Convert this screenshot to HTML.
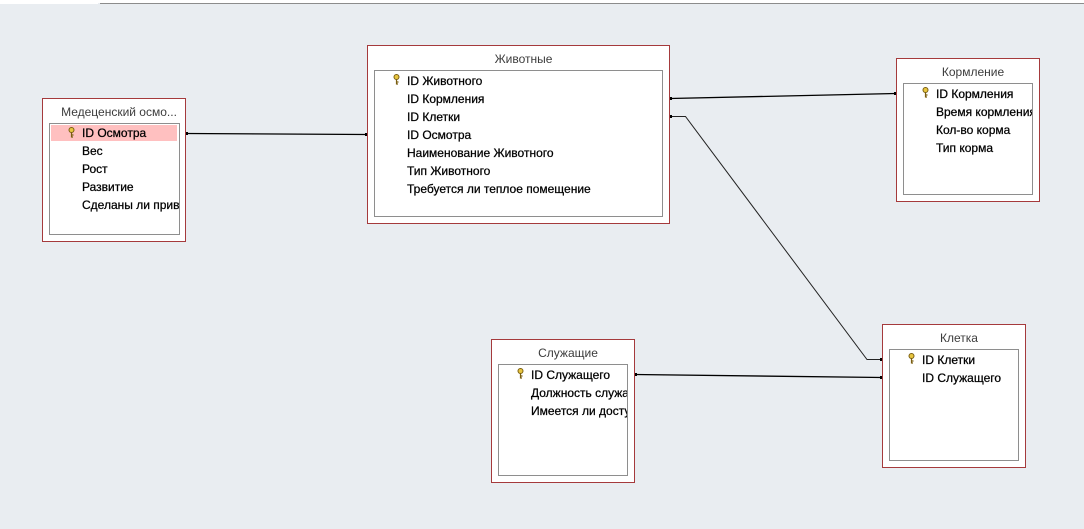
<!DOCTYPE html>
<html><head><meta charset="utf-8">
<style>
html,body{margin:0;padding:0;}
body{width:1084px;height:529px;background:#e9edf1;position:relative;overflow:hidden;font-family:"Liberation Sans","DejaVu Sans",sans-serif;}
.topw{position:absolute;left:0;top:0;width:1084px;height:3px;background:#fff;}
.topl{position:absolute;left:100px;top:3px;width:984px;height:1px;background:#8c8c8c;}
.tabw{position:absolute;left:0;top:0;width:98px;height:4px;background:#fff;}
.t{position:absolute;background:#fff;border:1px solid #a53a3c;box-sizing:border-box;}
.ttl{position:absolute;left:10px;right:0;top:5px;text-align:center;font-size:12px;color:#3c3c3c;line-height:16px;white-space:nowrap;}
.in{position:absolute;left:6px;top:24px;border:1px solid #8e8e8e;box-sizing:border-box;overflow:hidden;background:#fff;}
.r{position:absolute;left:32px;height:18px;line-height:18px;font-size:12px;color:#000;white-space:nowrap;-webkit-text-stroke:0.25px #000;}
.hl{position:absolute;left:1px;top:1px;height:16px;background:#ffc0c0;}
.k{position:absolute;left:18px;width:7px;height:11px;}
svg.lines{position:absolute;left:0;top:0;}
</style></head><body>
<div class="topw"></div><div class="tabw"></div><div class="topl"></div>

<svg class="lines" width="1084" height="529">
 <g stroke="#000" fill="none">
  <path d="M186.5 133.5 L366.5 134.5" stroke-width="1.3"/>
  <path d="M670 98.5 L896 93.5" stroke-width="1.3"/>
  <path d="M670 116.5 H685.5 L867 359.5 H882" stroke-width="1" stroke="#222"/>
  <path d="M635 374.5 L882 377.5" stroke-width="1.3"/>
 </g>
 <g fill="#000">
  <rect x="185" y="132" width="3" height="3"/>
  <rect x="365" y="133" width="3" height="3"/>
  <rect x="669" y="97" width="3" height="3"/>
  <rect x="894" y="92" width="3" height="3"/>
  <rect x="669" y="115" width="3" height="3"/>
  <rect x="880" y="358" width="3" height="3"/>
  <rect x="634" y="373" width="3" height="3"/>
  <rect x="880" y="376" width="3" height="3"/>
 </g>
</svg>

<!-- Медеценский осмотр -->
<div class="t" style="left:42px;top:98px;width:144px;height:144px;">
 <div class="ttl">Медеценский осмо...</div>
 <div class="in" style="width:131px;height:112px;">
  <div class="hl" style="width:126px;"></div>
  <svg class="k" style="top:3px" viewBox="0 0 7 11"><circle cx="3.5" cy="3" r="2.5" fill="#e8c640" stroke="#7a5e10" stroke-width="1"/><path d="M3.5 5.5 V10.5 M3.5 8 H5.5 M3.5 10 H5" stroke="#7a5e10" stroke-width="1.2" fill="none"/></svg>
  <div class="r" style="top:0px">ID Осмотра</div>
  <div class="r" style="top:18px">Вес</div>
  <div class="r" style="top:36px">Рост</div>
  <div class="r" style="top:54px">Развитие</div>
  <div class="r" style="top:72px">Сделаны ли прививки</div>
 </div>
</div>

<!-- Животные -->
<div class="t" style="left:367px;top:45px;width:303px;height:179px;">
 <div class="ttl">Животные</div>
 <div class="in" style="width:289px;height:147px;">
  <svg class="k" style="top:3px" viewBox="0 0 7 11"><circle cx="3.5" cy="3" r="2.5" fill="#e8c640" stroke="#7a5e10" stroke-width="1"/><path d="M3.5 5.5 V10.5 M3.5 8 H5.5 M3.5 10 H5" stroke="#7a5e10" stroke-width="1.2" fill="none"/></svg>
  <div class="r" style="top:1px">ID Животного</div>
  <div class="r" style="top:19px">ID Кормления</div>
  <div class="r" style="top:37px">ID Клетки</div>
  <div class="r" style="top:55px">ID Осмотра</div>
  <div class="r" style="top:73px">Наименование Животного</div>
  <div class="r" style="top:91px">Тип Животного</div>
  <div class="r" style="top:109px">Требуется ли теплое помещение</div>
 </div>
</div>

<!-- Кормление -->
<div class="t" style="left:896px;top:58px;width:144px;height:144px;">
 <div class="ttl">Кормление</div>
 <div class="in" style="width:130px;height:112px;">
  <svg class="k" style="top:3px" viewBox="0 0 7 11"><circle cx="3.5" cy="3" r="2.5" fill="#e8c640" stroke="#7a5e10" stroke-width="1"/><path d="M3.5 5.5 V10.5 M3.5 8 H5.5 M3.5 10 H5" stroke="#7a5e10" stroke-width="1.2" fill="none"/></svg>
  <div class="r" style="top:1px">ID Кормления</div>
  <div class="r" style="top:19px">Время кормления</div>
  <div class="r" style="top:37px">Кол-во корма</div>
  <div class="r" style="top:55px">Тип корма</div>
 </div>
</div>

<!-- Служащие -->
<div class="t" style="left:491px;top:339px;width:144px;height:144px;">
 <div class="ttl">Служащие</div>
 <div class="in" style="width:130px;height:112px;">
  <svg class="k" style="top:3px" viewBox="0 0 7 11"><circle cx="3.5" cy="3" r="2.5" fill="#e8c640" stroke="#7a5e10" stroke-width="1"/><path d="M3.5 5.5 V10.5 M3.5 8 H5.5 M3.5 10 H5" stroke="#7a5e10" stroke-width="1.2" fill="none"/></svg>
  <div class="r" style="top:1px">ID Служащего</div>
  <div class="r" style="top:19px">Должность служащего</div>
  <div class="r" style="top:37px">Имеется ли доступ</div>
 </div>
</div>

<!-- Клетка -->
<div class="t" style="left:882px;top:324px;width:144px;height:144px;">
 <div class="ttl">Клетка</div>
 <div class="in" style="width:130px;height:112px;">
  <svg class="k" style="top:3px" viewBox="0 0 7 11"><circle cx="3.5" cy="3" r="2.5" fill="#e8c640" stroke="#7a5e10" stroke-width="1"/><path d="M3.5 5.5 V10.5 M3.5 8 H5.5 M3.5 10 H5" stroke="#7a5e10" stroke-width="1.2" fill="none"/></svg>
  <div class="r" style="top:1px">ID Клетки</div>
  <div class="r" style="top:19px">ID Служащего</div>
 </div>
</div>
</body></html>
